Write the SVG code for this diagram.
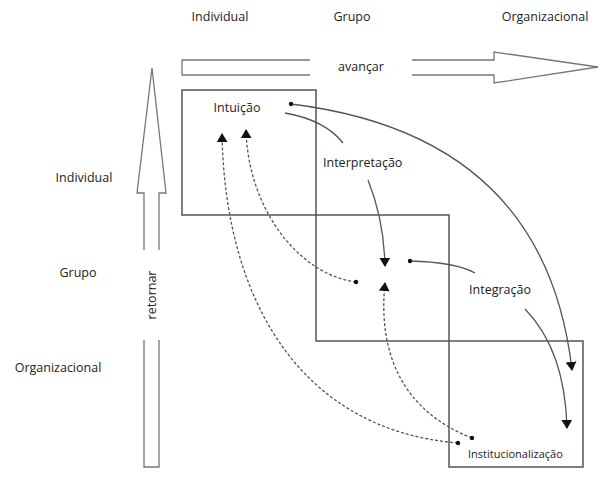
<svg xmlns="http://www.w3.org/2000/svg" width="609" height="480" viewBox="0 0 609 480">
<style>
text{font-family:"Open Sans","DejaVu Sans",sans-serif;font-size:12.5px;fill:#222}
.box{fill:none;stroke:#555;stroke-width:1.5}
.big{fill:none;stroke:#777;stroke-width:1.3}
.c{fill:none;stroke:#555;stroke-width:1.3}
.d{fill:none;stroke:#555;stroke-width:1.3;stroke-dasharray:3,2}
</style>
<defs>
<marker id="ah" viewBox="0 0 10 12" refX="9" refY="6" markerWidth="9" markerHeight="11" orient="auto" markerUnits="userSpaceOnUse"><path d="M0,0L10,6L0,12z" fill="#111"/></marker>
</defs>
<rect width="609" height="480" fill="#fff"/>
<g id="headers">
<text x="220" y="21" text-anchor="middle">Individual</text>
<text x="352" y="21" text-anchor="middle">Grupo</text>
<text x="545" y="21" text-anchor="middle">Organizacional</text>
<text x="84" y="182" text-anchor="middle">Individual</text>
<text x="78" y="277" text-anchor="middle">Grupo</text>
<text x="58" y="372" text-anchor="middle">Organizacional</text>
</g>
<g id="avancar">
<path class="big" d="M310,60H182V75H310M412,60H494V52L598,67L494,83V75H412"/>
<text x="361" y="71" text-anchor="middle">avançar</text>
</g>
<g id="retornar">
<path class="big" d="M144,250V193H137L152,68L166,193H159V250M144,340V467H159V340"/>
<text transform="translate(156,295) rotate(-90)" text-anchor="middle">retornar</text>
</g>
<g id="box-intuicao"><rect class="box" x="182" y="90" width="134" height="125"/><text x="237" y="112" text-anchor="middle">Intuição</text></g>
<g id="box-interpretacao"><path class="box" d="M316,215H449V341H316z"/><text x="323" y="167">Interpretação</text></g>
<g id="box-integracao"><path class="box" d="M449,341H583V467H449z"/><text x="500" y="294" text-anchor="middle">Integração</text></g>
<g id="institucionalizacao"><text x="468" y="458" style="font-size:11px">Institucionalização</text></g>
<g id="connectors">
<path class="c" d="M285,113Q325,120 343,143"/>
<path class="c" d="M368,180Q384,220 385,266" marker-end="url(#ah)"/>
<path class="c" d="M291,104Q545,135 572,370" marker-end="url(#ah)"/>
<path class="c" d="M410,261Q455,262 475,273"/>
<path class="c" d="M525,309Q565,350 567,428" marker-end="url(#ah)"/>
<path class="d" d="M356,282C300,275 248,210 246,130" marker-end="url(#ah)"/>
<path class="d" d="M458,443C300,430 225,300 222,134" marker-end="url(#ah)"/>
<path class="d" d="M472,438C400,410 378,350 385,283" marker-end="url(#ah)"/>
<circle cx="291" cy="104" r="2.2" fill="#111"/>
<circle cx="410" cy="261" r="2.2" fill="#111"/>
<circle cx="356" cy="282" r="2.2" fill="#111"/>
<circle cx="458" cy="443" r="2.2" fill="#111"/>
<circle cx="472" cy="438" r="2.2" fill="#111"/>
</g>
</svg>
